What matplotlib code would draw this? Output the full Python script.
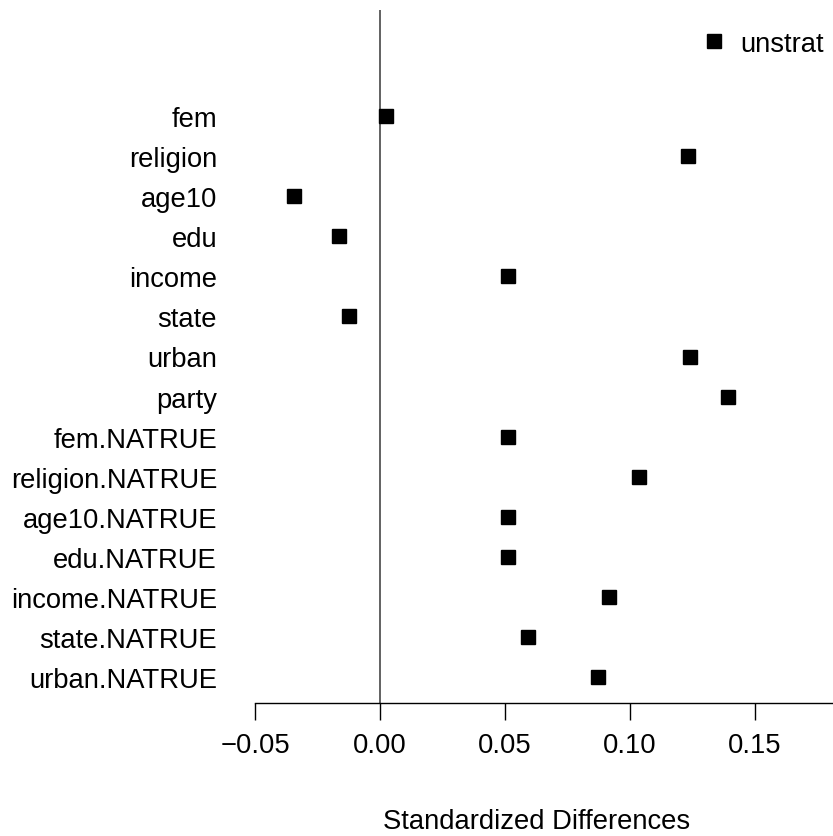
import matplotlib.pyplot as plt
import numpy as np

plt.rcParams['font.family'] = ['Liberation Sans', 'DejaVu Sans']

variables = ['fem', 'religion', 'age10', 'edu', 'income', 'state', 'urban', 'party',
             'fem.NATRUE', 'religion.NATRUE', 'age10.NATRUE', 'edu.NATRUE',
             'income.NATRUE', 'state.NATRUE', 'urban.NATRUE']
unstrat = [0.0024, 0.1232, -0.0344, -0.0164, 0.0512, -0.0124, 0.1240, 0.1392,
           0.0512, 0.1036, 0.0512, 0.0512, 0.0916, 0.0592, 0.0872]
xticks = [-0.05, 0.00, 0.05, 0.10, 0.15]
xticklabels = ['\u22120.05', '0.00', '0.05', '0.10', '0.15']

W, H = 833, 837
fs = 19.7

fig = plt.figure(figsize=(W / 100, H / 100), dpi=100)
left, right, top, bottom = 240, 833, 11, 704
ax = fig.add_axes([left / W, 1 - bottom / H, (right - left) / W, (bottom - top) / H])

ypos = np.arange(len(variables), 0, -1)
ax.axvline(0, color='#555555', lw=1.3, zorder=1)
ax.plot(unstrat, ypos, 's', color='black', markersize=9.4, ls='none',
        label='unstrat', zorder=3)

ax.set_xlim(-0.056, 0.1812)
ax.set_ylim(0.35, 17.65)

for s in ['top', 'right', 'left']:
    ax.spines[s].set_visible(False)
ax.spines['bottom'].set_bounds(-0.05, 0.1812)
ax.spines['bottom'].set_linewidth(1.0)

ax.set_xticks(xticks)
ax.set_xticklabels(xticklabels)
ax.set_yticks(ypos)
ax.set_yticklabels(variables)
ax.tick_params(axis='x', length=12, width=1.0, pad=9, labelsize=fs)
ax.tick_params(axis='y', length=0, pad=16.5, labelsize=fs)
ax.set_xlabel('Standardized Differences', fontsize=fs, labelpad=36)

ax.legend(loc='center right', bbox_to_anchor=(824 / W, 1 - 45 / H),
          bbox_transform=fig.transFigure, frameon=False, fontsize=fs,
          numpoints=1, handlelength=1.0, handletextpad=0.45,
          borderpad=0, borderaxespad=0)

fig.savefig('out.png', dpi=100)
